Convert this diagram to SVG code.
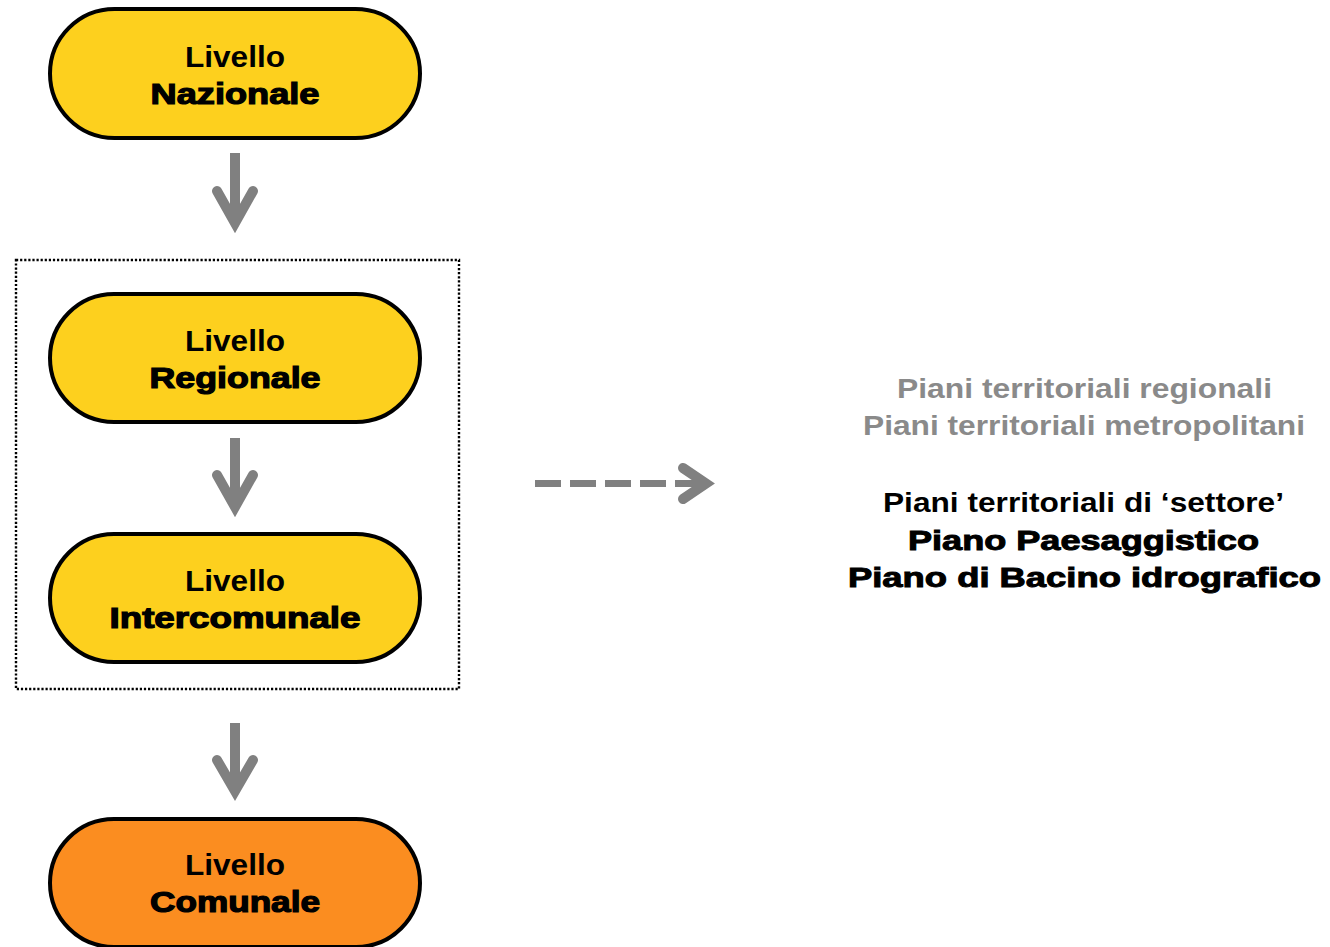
<svg xmlns="http://www.w3.org/2000/svg" width="1330" height="947" viewBox="0 0 1330 947">
<style>
.node rect{stroke:#000;stroke-width:4}
.yel{fill:#FDD01E}
.org{fill:#FB8D20}
.t1{font-family:"Liberation Sans",Arial,sans-serif;font-weight:bold;font-size:29px;fill:#000;text-anchor:middle}
.t2{font-family:"Liberation Sans",Arial,sans-serif;font-weight:bold;font-size:29px;fill:#000;stroke:#000;stroke-width:1.2;text-anchor:middle}
.rt{font-family:"Liberation Sans",Arial,sans-serif;font-weight:bold;font-size:28px;text-anchor:middle}
.gray{fill:#8A8A8A}
.blk{fill:#000}
.heavy{fill:#000;stroke:#000;stroke-width:1}
.arr{stroke:#808080;fill:none;stroke-width:10}
.head{stroke:#808080;fill:none;stroke-width:10;stroke-linecap:round;stroke-linejoin:miter;stroke-miterlimit:4}
</style>
<rect id="group-box" x="16" y="260" width="443" height="429" fill="none" stroke="#000" stroke-width="2.4" stroke-dasharray="2.2 1.9"/>
<g id="connectors">
<line class="arr" x1="235" y1="153" x2="235" y2="222"/>
<polyline class="head" points="217,191 235,223 253,191"/>
<line class="arr" x1="235" y1="438" x2="235" y2="506"/>
<polyline class="head" points="217,475 235,507 253,475"/>
<line class="arr" x1="235" y1="723" x2="235" y2="790"/>
<polyline class="head" points="217,760 235,791 253,760"/>
<line stroke="#808080" stroke-width="7" stroke-dasharray="26 9" x1="535" y1="483.5" x2="701" y2="483.5"/>
<polyline class="head" points="683,468 706,483.5 683,499"/>
</g>
<g id="node-nazionale" class="node">
<rect class="yel" x="50" y="9" width="370" height="129" rx="64.5"/>
<text class="t1" x="235" y="67" textLength="100" lengthAdjust="spacingAndGlyphs">Livello</text>
<text class="t2" x="235" y="104" textLength="169" lengthAdjust="spacingAndGlyphs">Nazionale</text>
</g>
<g id="node-regionale" class="node">
<rect class="yel" x="50" y="294" width="370" height="128" rx="64"/>
<text class="t1" x="235" y="351" textLength="100" lengthAdjust="spacingAndGlyphs">Livello</text>
<text class="t2" x="235" y="388" textLength="171" lengthAdjust="spacingAndGlyphs">Regionale</text>
</g>
<g id="node-intercomunale" class="node">
<rect class="yel" x="50" y="534" width="370" height="128" rx="64"/>
<text class="t1" x="235" y="591" textLength="100" lengthAdjust="spacingAndGlyphs">Livello</text>
<text class="t2" x="235" y="628" textLength="251" lengthAdjust="spacingAndGlyphs">Intercomunale</text>
</g>
<g id="node-comunale" class="node">
<rect class="org" x="50" y="819" width="370" height="128" rx="64"/>
<text class="t1" x="235" y="875" textLength="100" lengthAdjust="spacingAndGlyphs">Livello</text>
<text class="t2" x="235" y="912" textLength="170" lengthAdjust="spacingAndGlyphs">Comunale</text>
</g>
<g id="plans-text">
<text class="rt gray" x="1084.5" y="398" textLength="375" lengthAdjust="spacingAndGlyphs">Piani territoriali regionali</text>
<text class="rt gray" x="1084" y="435" textLength="442" lengthAdjust="spacingAndGlyphs">Piani territoriali metropolitani</text>
<text class="rt blk" x="1083.5" y="512" textLength="401" lengthAdjust="spacingAndGlyphs">Piani territoriali di ‘settore’</text>
<text class="rt heavy" x="1083.5" y="550" textLength="351" lengthAdjust="spacingAndGlyphs">Piano Paesaggistico</text>
<text class="rt heavy" x="1084.5" y="587" textLength="473" lengthAdjust="spacingAndGlyphs">Piano di Bacino idrografico</text>
</g>
</svg>
